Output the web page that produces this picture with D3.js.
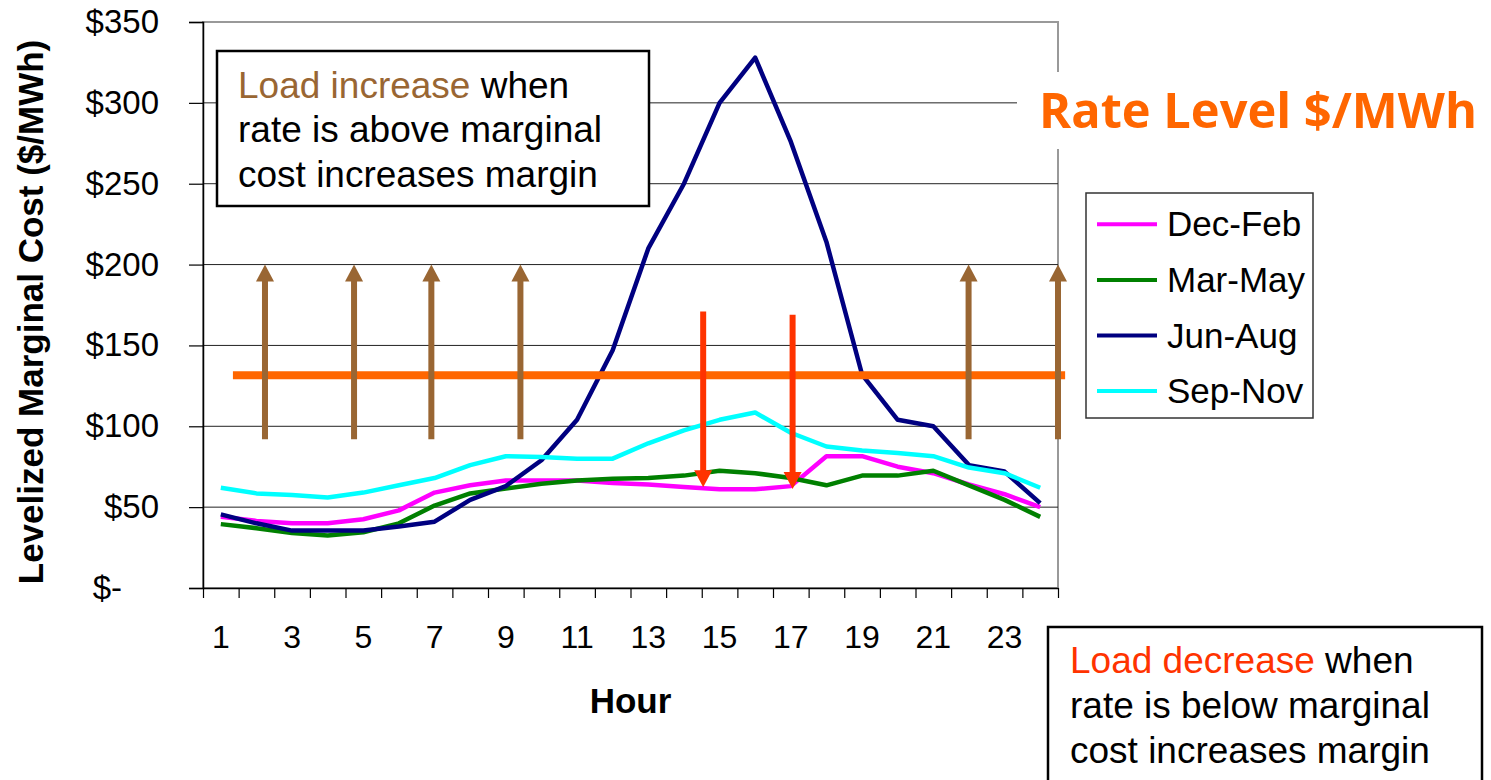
<!DOCTYPE html>
<html>
<head>
<meta charset="utf-8">
<script src="https://cdn.jsdelivr.net/npm/d3@7"></script>
<style>
  body { margin: 0; background: #fff; }
  svg { display: block; }
  text { font-family: "Liberation Sans", Arial, sans-serif; }
</style>
</head>
<body>
<svg id="chart" width="1491" height="780"></svg>
<script>
// ===============================
// data
// ===============================
const HOURS = [1, 2, 3, 4, 5, 6, 7, 8, 9, 10, 11, 12, 13, 14, 15, 16, 17, 18, 19, 20, 21, 22, 23, 24];
const HOUR_LABELS = [1, 3, 5, 7, 9, 11, 13, 15, 17, 19, 21, 23];
const Y_TICKS = [0, 50, 100, 150, 200, 250, 300, 350];

const DEC_FEB = [44, 41.5, 40, 40, 42.5, 48, 59, 63.5, 66.5, 66.5, 66.5, 65, 64, 62.5, 61, 61, 63, 81.5, 81.5, 75, 71, 64, 58, 50];
const MAR_MAY = [39.5, 37, 34, 32.5, 34.5, 40, 51, 58.5, 61.5, 64.5, 66.5, 67.5, 68, 69.5, 72.5, 71, 68, 63.5, 69.5, 69.5, 72.5, 63.5, 54.5, 44];
const JUN_AUG = [45.5, 40, 35.5, 35.5, 35.5, 38, 41, 54.5, 63, 79, 104, 147, 210, 250, 300, 328, 276, 214, 132, 104, 100, 76, 72, 52.5];
const SEP_NOV = [62, 58.5, 57.5, 56, 59, 63.5, 68, 76, 81.5, 81, 80, 80, 89.5, 97.5, 104, 108.5, 96, 87.5, 85, 83.5, 81.5, 74.5, 71, 62];

const SERIES_NAMES  = ["Dec-Feb", "Mar-May", "Jun-Aug", "Sep-Nov"];
const SERIES_COLORS = ["#FF00FF", "#008000", "#000080", "#00FFFF"];

// rate level line (value, from hour .. to hour)
const RATE_LEVEL = 131.5;
const RATE_SPAN  = [1.34, 24.7];

// annotation arrows: hour position, start value, tip value
const UP_ARROWS = [
    { hour: 2.24,  from: 92, to: 200 },
    { hour: 4.74,  from: 92, to: 200 },
    { hour: 6.91,  from: 92, to: 200 },
    { hour: 9.41,  from: 92, to: 200 },
    { hour: 21.99, from: 92, to: 200 },
    { hour: 24.5,  from: 92, to: 200 }
];
const DOWN_ARROWS = [
    { hour: 14.54, from: 171, to: 62.3 },
    { hour: 17.05, from: 169, to: 61.2 }
];

// ===============================
// chart
// ===============================
const svg = d3.select("#chart");
const P = { left: 203, right: 1058, top: 22, bottom: 588 };

const x = d3.scaleBand().domain(HOURS).range([P.left, P.right]).padding(0);
const xLin = d3.scaleLinear().domain([0.5, 24.5]).range([P.left, P.right]);
const y = d3.scaleLinear().domain([0, 350]).range([P.bottom, P.top]);

// plot frame
svg.append("rect")
    .attr("x", P.left).attr("y", P.top)
    .attr("width", P.right - P.left).attr("height", P.bottom - P.top)
    .attr("fill", "none").attr("stroke", "#999").attr("stroke-width", 2);

// gridlines
svg.append("g").selectAll("line")
    .data(Y_TICKS.filter(v => v > 0 && v < 350))
    .enter().append("line")
    .attr("x1", P.left).attr("x2", P.right)
    .attr("y1", d => y(d)).attr("y2", d => y(d))
    .attr("stroke", "#222").attr("stroke-width", 1);

// series
const series = [DEC_FEB, MAR_MAY, JUN_AUG, SEP_NOV].map((vals, i) => ({
    name: SERIES_NAMES[i], color: SERIES_COLORS[i],
    values: HOURS.map((h, j) => ({ h, v: vals[j] }))
}));

const line = d3.line()
    .x(d => x(d.h) + x.bandwidth() / 2)
    .y(d => y(d.v));

svg.append("g").selectAll("path")
    .data(series)
    .enter().append("path")
    .attr("fill", "none")
    .attr("stroke", d => d.color)
    .attr("stroke-width", 4.5)
    .attr("stroke-linejoin", "round")
    .attr("d", d => line(d.values));

// rate level
svg.append("line")
    .attr("x1", xLin(RATE_SPAN[0])).attr("x2", xLin(RATE_SPAN[1]))
    .attr("y1", y(RATE_LEVEL)).attr("y2", y(RATE_LEVEL))
    .attr("stroke", "#FF6600").attr("stroke-width", 8);

// arrows
function drawArrows(list, color) {
    const HEAD_W = 18, HEAD_H = 17;
    const g = svg.append("g");
    list.forEach(a => {
        const ax = xLin(a.hour);
        const y0 = y(a.from), y1 = y(a.to);
        const dir = y1 < y0 ? 1 : -1;   // 1 = pointing up
        g.append("line")
            .attr("x1", ax).attr("x2", ax)
            .attr("y1", y0).attr("y2", y1 + dir * HEAD_H * 0.8)
            .attr("stroke", color).attr("stroke-width", 6);
        g.append("path")
            .attr("d", `M${ax},${y1} L${ax - HEAD_W / 2},${y1 + dir * HEAD_H} L${ax + HEAD_W / 2},${y1 + dir * HEAD_H} Z`)
            .attr("fill", color);
    });
}
drawArrows(UP_ARROWS, "#996633");
drawArrows(DOWN_ARROWS, "#FF3300");

// y axis
const yAxis = svg.append("g")
    .attr("transform", `translate(${P.left},0)`)
    .call(d3.axisLeft(y).tickValues(Y_TICKS).tickSize(14).tickPadding(30)
        .tickFormat(d => d === 0 ? "$-" : "$" + d));
yAxis.select(".domain").attr("stroke", "#000").attr("stroke-width", 1.5);
yAxis.selectAll(".tick line").attr("stroke", "#000").attr("stroke-width", 1.2);
yAxis.selectAll(".tick text")
    .style("font-size", "33px").attr("fill", "#000")
    .attr("font-family", "Liberation Sans, Arial, sans-serif")
    .attr("dx", d => d === 0 ? -37 : 0);

// x axis: boundary ticks + odd-hour labels
const xTicks = svg.append("g")
    .attr("transform", `translate(0,${P.bottom})`)
    .call(d3.axisBottom(xLin).tickValues(d3.range(0.5, 25, 1)).tickSize(10).tickFormat("").tickSizeOuter(0));
xTicks.select(".domain").attr("stroke", "#000").attr("stroke-width", 1.5);
xTicks.selectAll(".tick line").attr("stroke", "#000").attr("stroke-width", 1.2);

const xLabels = svg.append("g")
    .attr("transform", `translate(0,${P.bottom})`)
    .call(d3.axisBottom(x).tickValues(HOUR_LABELS).tickSize(0).tickPadding(37));
xLabels.select(".domain").remove();
xLabels.selectAll(".tick text")
    .style("font-size", "32px").attr("fill", "#000")
    .attr("font-family", "Liberation Sans, Arial, sans-serif");

// axis titles
svg.append("text")
    .attr("x", (P.left + P.right) / 2).attr("y", 713)
    .attr("text-anchor", "middle")
    .style("font", "bold 35px 'Liberation Sans', Arial, sans-serif")
    .text("Hour");

svg.append("text")
    .attr("transform", `translate(43,${(P.top + P.bottom) / 2 + 7}) rotate(-90)`)
    .attr("text-anchor", "middle")
    .style("font", "bold 35px 'Liberation Sans', Arial, sans-serif")
    .text("Levelized Marginal Cost ($/MWh)");

// text boxes
function noteBox(bx, by, bw, bh, tx, baselines, lead, leadColor, rest) {
    const g = svg.append("g");
    g.append("rect")
        .attr("x", bx).attr("y", by).attr("width", bw).attr("height", bh)
        .attr("fill", "#fff").attr("stroke", "#000").attr("stroke-width", 2.5);
    const t = g.append("text").style("font-size", "37px");
    const first = t.append("tspan").attr("x", tx).attr("y", baselines[0]);
    first.append("tspan").attr("fill", leadColor).text(lead);
    first.append("tspan").attr("fill", "#000").text(" " + rest[0]);
    rest.slice(1).forEach((s, i) => {
        t.append("tspan").attr("x", tx).attr("y", baselines[i + 1]).attr("fill", "#000").text(s);
    });
}
noteBox(217, 51, 432, 155, 238, [98, 142, 187],
    "Load increase", "#996633", ["when", "rate is above marginal", "cost increases margin"]);
noteBox(1048, 627, 434, 200, 1070, [673, 718, 763],
    "Load decrease", "#FF3300", ["when", "rate is below marginal", "cost increases margin"]);

// rate level title
svg.append("rect")
    .attr("x", 1017).attr("y", 72).attr("width", 474).attr("height", 77)
    .attr("fill", "#fff");
svg.append("text")
    .attr("x", 1039).attr("y", 128)
    .attr("fill", "#FF6600")
    .attr("textLength", 438).attr("lengthAdjust", "spacingAndGlyphs")
    .style("font", "bold 48px 'Open Sans', sans-serif")
    .text("Rate Level $/MWh");

// legend
const legend = svg.append("g");
legend.append("rect")
    .attr("x", 1086).attr("y", 193).attr("width", 227).attr("height", 225)
    .attr("fill", "#fff").attr("stroke", "#333").attr("stroke-width", 1.5);
series.forEach((s, i) => {
    const ry = 224.3 + i * 55.6;
    legend.append("line")
        .attr("x1", 1097).attr("x2", 1157).attr("y1", ry).attr("y2", ry)
        .attr("stroke", s.color).attr("stroke-width", 4);
    legend.append("text")
        .attr("x", 1167).attr("y", ry + 12)
        .style("font-size", "35px")
        .text(s.name);
});
</script>
</body>
</html>
